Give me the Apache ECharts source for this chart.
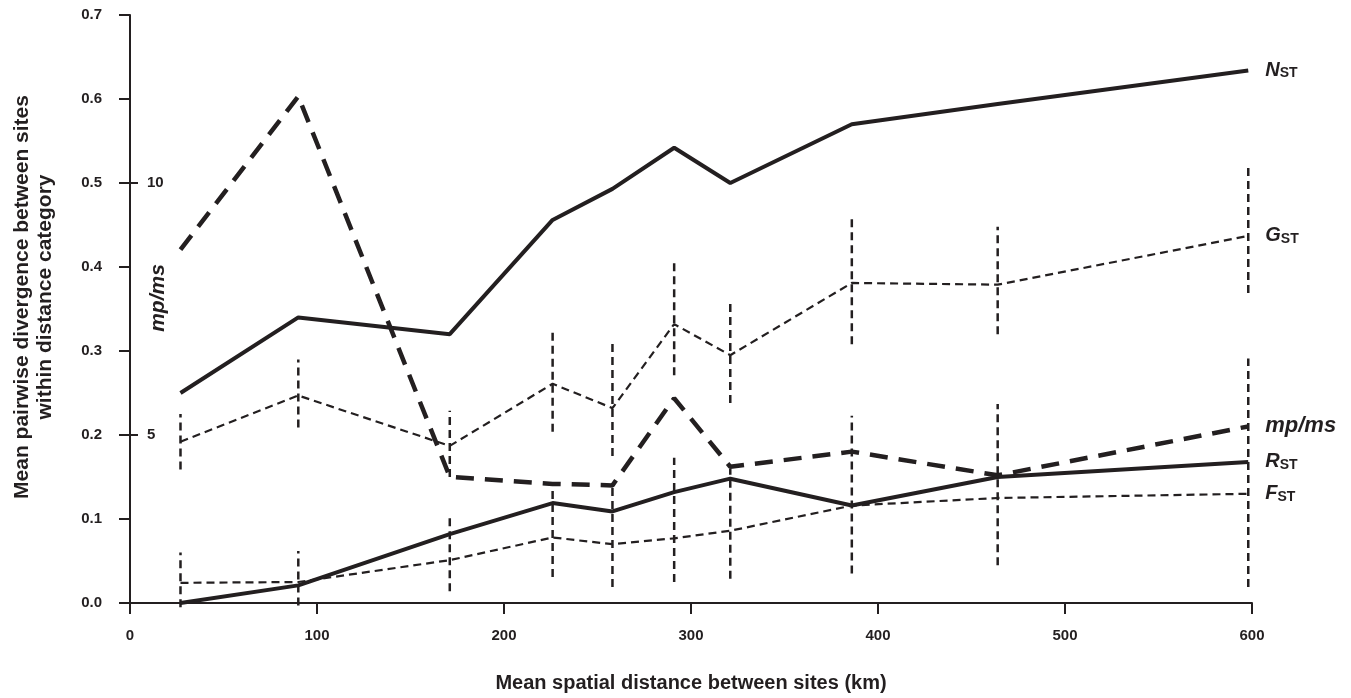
<!DOCTYPE html>
<html>
<head>
<meta charset="utf-8">
<script src="https://cdn.jsdelivr.net/npm/echarts@6/dist/echarts.min.js"></script>
<style>
  html, body { margin: 0; padding: 0; background: #fff; }
  #chart { width: 1351px; height: 698px; }
</style>
</head>
<body>
<div id="chart"></div>
<script>
// mean distance (km) of each distance category
var distance = [27, 90, 171, 226, 258, 291, 321, 386, 464, 598];

var nst = [0.250, 0.340, 0.320, 0.456, 0.493, 0.542, 0.500, 0.570, 0.594, 0.634];
var gst = [0.192, 0.247, 0.187, 0.261, 0.232, 0.332, 0.295, 0.381, 0.379, 0.437];
var gstLow = [0.159, 0.209, 0.150, 0.204, 0.175, 0.271, 0.238, 0.308, 0.320, 0.369];
var gstHigh = [0.225, 0.290, 0.229, 0.325, 0.309, 0.410, 0.360, 0.462, 0.448, 0.523];
var rst = [0.000, 0.021, 0.082, 0.119, 0.109, 0.132, 0.148, 0.116, 0.150, 0.168];
var fst = [0.024, 0.025, 0.051, 0.078, 0.070, 0.077, 0.086, 0.116, 0.125, 0.130];
var fstLow = [-0.005, -0.003, 0.014, 0.031, 0.019, 0.025, 0.029, 0.035, 0.045, 0.019];
var fstHigh = [0.060, 0.062, 0.103, 0.141, 0.140, 0.173, 0.160, 0.223, 0.237, 0.291];
// mp/ms on its own scale (5 and 10 marks)
var mpms = [8.68, 11.72, 4.17, 4.03, 4.00, 5.73, 4.37, 4.67, 4.20, 5.17];
var mpmsTicks = [5, 10];

var ink = '#231f20';
var font = '"Liberation Sans", Arial, sans-serif';

function pairs(ys){
    var out = [];
    for (var i = 0; i < distance.length; i++) out.push([distance[i], ys[i]]);
    return out;
}
function bars(lo, hi){
    var out = [];
    for (var i = 0; i < distance.length; i++) out.push([distance[i], lo[i], hi[i]]);
    return out;
}
function errorBarItem(params, api){
    var a = api.coord([api.value(0), api.value(1)]);
    var b = api.coord([api.value(0), api.value(2)]);
    return {
        type: 'line',
        shape: {x1: a[0], y1: a[1], x2: b[0], y2: b[1]},
        style: {stroke: ink, lineWidth: 2.5, lineDash: [8, 5], fill: null}
    };
}
function endLabel(letter){
    return {
        show: true,
        distance: 17,
        formatter: '{a|' + letter + '}{b|ST}',
        rich: {
            a: {fontFamily: font, fontSize: 20, fontWeight: 'bold', fontStyle: 'italic', color: ink},
            b: {fontFamily: font, fontSize: 14, fontWeight: 'bold', color: ink, padding: [6, 0, 0, 0]}
        }
    };
}

var chart = echarts.init(document.getElementById('chart'));
var option = {
    animation: false,
    backgroundColor: '#fff',
    grid: {left: 130, right: 99, top: 15, bottom: 94},
    xAxis: {
        type: 'value',
        min: 0, max: 600, interval: 100,
        name: 'Mean spatial distance between sites (km)',
        nameLocation: 'middle',
        nameGap: 70,
        nameTextStyle: {fontFamily: font, fontSize: 20, fontWeight: 'bold', color: ink},
        axisLine: {lineStyle: {color: ink, width: 2}},
        axisTick: {length: 11, lineStyle: {color: ink, width: 2}},
        axisLabel: {fontFamily: font, fontSize: 15, fontWeight: 'bold', color: ink, margin: 25},
        splitLine: {show: false}
    },
    yAxis: [{
        type: 'value',
        min: 0, max: 0.7, interval: 0.1,
        axisLine: {show: true, lineStyle: {color: ink, width: 2}},
        axisTick: {show: true, length: 11, lineStyle: {color: ink, width: 2}},
        axisLabel: {fontFamily: font, fontSize: 15, fontWeight: 'bold', color: ink, margin: 28,
            formatter: function (v) { return v.toFixed(1); }},
        splitLine: {show: false}
    }, {
        type: 'value',
        position: 'left',
        min: 5 / 3, max: 40 / 3,
        axisLine: {show: false},
        axisTick: {show: true, inside: true, length: 8, customValues: mpmsTicks, lineStyle: {color: ink, width: 2}},
        axisLabel: {show: true, inside: true, margin: 17, customValues: mpmsTicks,
            fontFamily: font, fontSize: 15, fontWeight: 'bold', color: ink},
        splitLine: {show: false}
    }],
    graphic: [{
        type: 'text',
        x: 34, y: 297,
        rotation: Math.PI / 2,
        style: {
            text: 'Mean pairwise divergence between sites\nwithin distance category',
            fontFamily: font, fontSize: 21, fontWeight: 'bold', fill: ink,
            align: 'center', verticalAlign: 'middle', lineHeight: 23
        }
    }, {
        type: 'text',
        x: 158, y: 298,
        rotation: Math.PI / 2,
        style: {
            text: 'mp/ms',
            fontFamily: font, fontSize: 21, fontWeight: 'bold', fontStyle: 'italic', fill: ink,
            align: 'center', verticalAlign: 'middle'
        }
    }],
    series: [{
        name: 'GST bars', type: 'custom', data: bars(gstLow, gstHigh),
        renderItem: errorBarItem, encode: {x: 0, y: [1, 2]}, z: 1
    }, {
        name: 'FST bars', type: 'custom', data: bars(fstLow, fstHigh),
        renderItem: errorBarItem, encode: {x: 0, y: [1, 2]}, z: 1
    }, {
        name: 'NST', type: 'line', data: pairs(nst), symbol: 'none',
        lineStyle: {color: ink, width: 4, type: 'solid'},
        endLabel: endLabel('N')
    }, {
        name: 'GST', type: 'line', data: pairs(gst), symbol: 'none',
        lineStyle: {color: ink, width: 2.2, type: [8, 5]},
        endLabel: endLabel('G')
    }, {
        name: 'RST', type: 'line', data: pairs(rst), symbol: 'none',
        lineStyle: {color: ink, width: 4, type: 'solid'},
        endLabel: endLabel('R')
    }, {
        name: 'FST', type: 'line', data: pairs(fst), symbol: 'none',
        lineStyle: {color: ink, width: 2.2, type: [8, 5]},
        endLabel: endLabel('F')
    }, {
        name: 'mp/ms', type: 'line', yAxisIndex: 1, data: pairs(mpms), symbol: 'none',
        lineStyle: {color: ink, width: 4.5, type: [18, 11]},
        endLabel: {
            show: true, distance: 17, formatter: 'mp/ms',
            fontFamily: font, fontSize: 22, fontWeight: 'bold', fontStyle: 'italic', color: ink
        }
    }]
};
chart.setOption(option);
</script>
</body>
</html>
